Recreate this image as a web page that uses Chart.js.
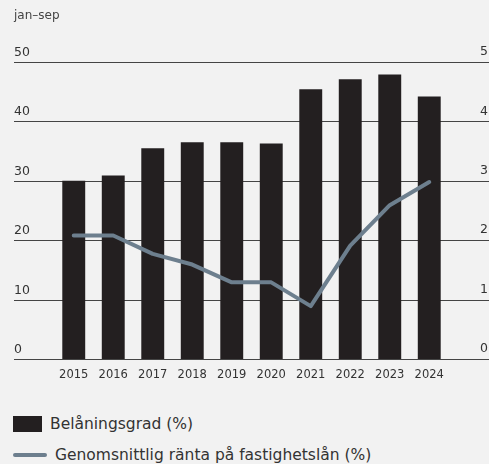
<!DOCTYPE html>
<html>
<head>
<meta charset="utf-8">
<script src="https://cdn.jsdelivr.net/npm/chart.js@4"></script>
<style>
  body { margin: 0; background: #f2f2f2; font-family: "DejaVu Sans", sans-serif; color: #333; }
  #wrap { position: relative; width: 489px; height: 464px; }
  #chartCanvas { position: absolute; left: 0; top: 0; }
  .note { position: absolute; left: 14px; top: 8px; font-size: 12px; color: #444; }
  .leg { position: absolute; left: 13px; font-size: 15.5px; color: #333; display: flex; align-items: center; }
  .sw-bar { width: 29px; height: 16px; background: #231f20; margin-right: 8px; }
  .sw-line { width: 34px; height: 4px; border-radius: 2px; background: #6d7f8e; margin-right: 8px; }
</style>
</head>
<body>
<div id="wrap">
  <canvas id="chartCanvas" width="489" height="395"></canvas>
  <div class="note">jan–sep</div>
  <div class="leg" id="leg1" style="top:415px"><div class="sw-bar"></div><span></span></div>
  <div class="leg" id="leg2" style="top:446px"><div class="sw-line"></div><span></span></div>
</div>
<script>
let years = ['2015', '2016', '2017', '2018', '2019', '2020', '2021', '2022', '2023', '2024']
let belaningsgrad = [30.0, 30.9, 35.5, 36.5, 36.5, 36.3, 45.4, 47.1, 47.9, 44.2]
let ranta = [2.08, 2.08, 1.77, 1.59, 1.29, 1.29, 0.89, 1.91, 2.59, 2.98]
let leftTicks = [0, 10, 20, 30, 40, 50]
let rightTicks = [0, 1, 2, 3, 4, 5]
let barLabel = 'Belåningsgrad (%)'
let lineLabel = 'Genomsnittlig ränta på fastighetslån (%)'

document.querySelector('#leg1 span').textContent = barLabel
document.querySelector('#leg2 span').textContent = lineLabel

// gridlines run across the full width, labels sit above them
const gridPlugin = {
    id: 'gridPlugin',
    beforeDatasetsDraw(chart) {
        const ctx = chart.ctx
        const y = chart.scales.y
        const y1 = chart.scales.y1
        const x = chart.scales.x
        ctx.save()
        ctx.font = '12.5px "DejaVu Sans"'
        ctx.fillStyle = '#333'
        ctx.textBaseline = 'middle'
        leftTicks.forEach(function(t, i) {
            const py = Math.round(y.getPixelForValue(t)) + 0.5
            ctx.strokeStyle = '#444'
            ctx.lineWidth = 1
            ctx.beginPath()
            ctx.moveTo(14, py)
            ctx.lineTo(489, py)
            ctx.stroke()
            ctx.textAlign = 'left'
            ctx.fillText(String(t), 14, py - 10)
            const ry = y1.getPixelForValue(rightTicks[i])
            ctx.textAlign = 'right'
            ctx.fillText(String(rightTicks[i]), 488, ry - 10)
        })
        ctx.font = '11.5px "DejaVu Sans"'
        ctx.textAlign = 'center'
        years.forEach(function(lbl, i) {
            ctx.fillText(lbl, x.getPixelForValue(i), 375)
        })
        ctx.restore()
    }
}

new Chart(document.getElementById('chartCanvas'), {
    type: 'bar',
    data: {
        labels: years,
        datasets: [{
            type: 'line',
            label: lineLabel,
            data: ranta,
            yAxisID: 'y1',
            borderColor: '#6d7f8e',
            borderWidth: 4,
            borderCapStyle: 'round',
            borderJoinStyle: 'round',
            pointRadius: 0,
            tension: 0,
            order: 0
        }, {
            label: barLabel,
            data: belaningsgrad,
            yAxisID: 'y',
            backgroundColor: '#231f20',
            barPercentage: 0.58,
            categoryPercentage: 1,
            order: 1
        }]
    },
    options: {
        responsive: false,
        animation: false,
        layout: { padding: { left: 54, right: 40, top: 62, bottom: 36 } },
        plugins: { legend: { display: false }, tooltip: { enabled: false } },
        scales: {
            x: { display: false },
            y: { display: false, min: 0, max: 50 },
            y1: { display: false, min: 0, max: 5, position: 'right' }
        }
    },
    plugins: [gridPlugin]
})
</script>
</body>
</html>
